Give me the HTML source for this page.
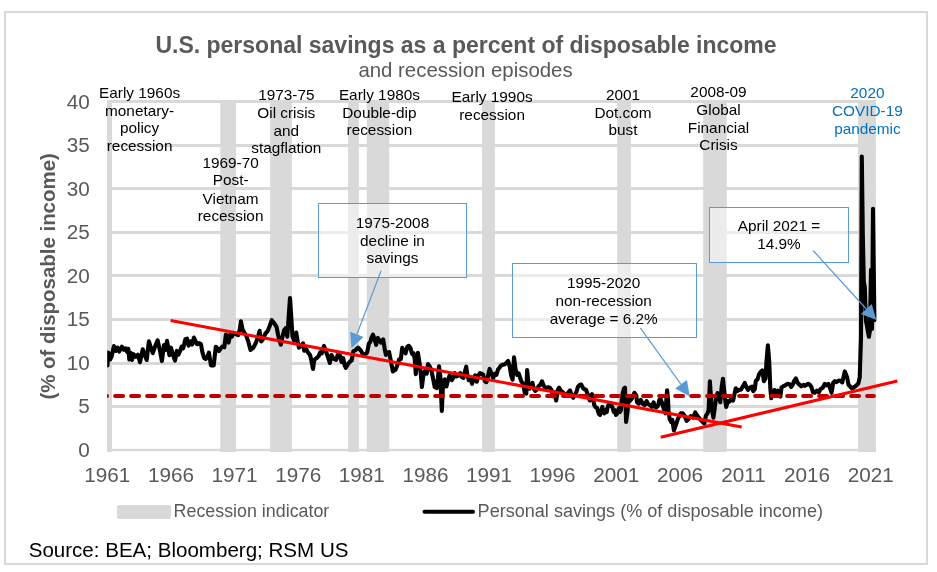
<!DOCTYPE html>
<html><head><meta charset="utf-8"><title>U.S. personal savings</title>
<style>
html,body{margin:0;padding:0;background:#fff;}
body{width:937px;height:572px;position:relative;overflow:hidden;font-family:"Liberation Sans",sans-serif;}
#frame{position:absolute;left:4px;top:11px;width:920px;height:550px;border:2px solid #d9d9d9;background:#fff;}
svg{position:absolute;left:0;top:0;}
#txt{position:absolute;left:0;top:0;width:937px;height:572px;will-change:transform;}
.t{position:absolute;white-space:nowrap;}
#title{left:0;width:932px;text-align:center;top:31.5px;font-size:23px;font-weight:bold;color:#595959;line-height:26px;}
#sub{left:0;width:931px;text-align:center;top:58.2px;font-size:20.4px;color:#595959;line-height:24px;}
.yl{position:absolute;left:30px;width:59.7px;text-align:right;font-size:20.7px;line-height:23px;height:23px;color:#595959;}
.xl{position:absolute;top:462.5px;width:60px;text-align:center;font-size:20.7px;line-height:24px;color:#595959;}
#ytitle{position:absolute;left:0;top:0;font-size:20.45px;font-weight:bold;color:#595959;white-space:nowrap;line-height:24px;
 transform-origin:0 0;transform:translate(36.2px,399.6px) rotate(-90deg);}
.an{position:absolute;text-align:center;font-size:15.35px;line-height:17px;height:17px;white-space:nowrap;}
.box{position:absolute;border:1px solid #5b9bd5;background:rgba(255,255,255,0.5);box-sizing:border-box;}
.lg{position:absolute;font-size:17.9px;color:#595959;line-height:22px;white-space:nowrap;}
#src{left:28.7px;top:538.3px;font-size:20.56px;color:#000;line-height:24px;}
</style></head><body>
<div id="frame"></div>
<svg width="937" height="572" viewBox="0 0 937 572">
<rect x="107" y="100" width="5.0" height="352" fill="#d9d9d9"/>
<rect x="220.3" y="100" width="15.7" height="352" fill="#d9d9d9"/>
<rect x="270.1" y="100" width="21.8" height="352" fill="#d9d9d9"/>
<rect x="348.1" y="100" width="10.8" height="352" fill="#d9d9d9"/>
<rect x="366.8" y="100" width="22.4" height="352" fill="#d9d9d9"/>
<rect x="482.1" y="100" width="12.8" height="352" fill="#d9d9d9"/>
<rect x="617.2" y="100" width="13.7" height="352" fill="#d9d9d9"/>
<rect x="703.2" y="100" width="23.6" height="352" fill="#d9d9d9"/>
<rect x="858.1" y="100" width="17.8" height="352" fill="#d9d9d9"/>
<rect x="107" y="100" width="769" height="3" fill="#d9d9d9"/>
<rect x="107" y="144" width="769" height="3" fill="#d9d9d9"/>
<rect x="107" y="187" width="769" height="3" fill="#d9d9d9"/>
<rect x="107" y="231" width="769" height="3" fill="#d9d9d9"/>
<rect x="107" y="274" width="769" height="3" fill="#d9d9d9"/>
<rect x="107" y="318" width="769" height="3" fill="#d9d9d9"/>
<rect x="107" y="362" width="769" height="3" fill="#d9d9d9"/>
<rect x="107" y="405" width="769" height="3" fill="#d9d9d9"/>
<rect x="107" y="448.8" width="769" height="2.4" fill="#d9d9d9"/>

<defs><clipPath id="cp2"><rect x="107.2" y="90" width="790" height="380"/></clipPath><clipPath id="cp"><rect x="107" y="90" width="769" height="370"/></clipPath></defs>
<polyline clip-path="url(#cp2)" points="107.5,365.4 108.3,352.6 110.1,359.5 111.7,356.3 113.9,346.1 116.0,350.9 117.6,347.7 119.2,351.5 121.9,346.7 124.0,349.9 125.6,348.3 127.2,352.0 128.3,348.8 129.3,359.5 130.9,353.1 132.0,360.0 133.6,354.2 135.8,356.8 137.9,354.7 140.0,362.2 142.7,349.3 144.8,355.2 146.7,360.0 148.9,341.3 151.2,348.8 152.8,353.1 155.0,346.7 157.6,340.3 159.8,349.9 161.9,361.1 164.0,345.1 165.6,349.9 167.0,340.8 169.4,355.2 171.0,347.7 173.1,355.2 175.0,360.6 176.8,350.9 178.4,354.7 180.0,350.9 181.6,346.7 183.2,348.3 185.4,339.2 187.0,338.7 188.6,345.6 190.7,341.3 192.3,344.5 193.9,337.6 196.1,342.4 197.1,344.2 199.3,343.1 200.9,344.2 202.5,352.7 204.1,358.0 205.7,359.1 207.3,357.0 208.9,352.7 211.0,365.5 213.7,365.5 215.8,346.8 217.4,348.4 219.0,351.1 221.1,347.9 222.7,346.3 224.3,347.4 225.9,334.5 227.6,337.7 228.6,342.6 230.2,334.5 231.8,336.7 233.4,332.9 235.6,334.0 238.2,335.1 239.8,329.2 240.9,321.2 242.5,329.2 244.1,332.4 246.2,335.6 248.4,342.0 250.5,350.0 253.2,347.9 255.8,343.1 258.0,336.7 259.6,330.8 261.2,341.5 263.3,338.8 265.4,333.5 267.6,331.3 269.7,326.0 271.8,320.1 273.8,322.8 275.0,324.4 276.6,327.1 278.0,334.5 279.5,340.9 280.9,344.7 282.5,336.7 284.1,330.3 285.7,328.1 287.3,336.7 290.0,298.0 292.5,336.3 294.1,340.6 296.2,332.6 297.8,342.2 298.9,347.6 301.0,345.9 303.1,343.3 304.2,350.8 306.3,349.2 307.9,352.4 310.1,355.0 311.7,362.0 313.0,368.9 314.3,359.8 316.5,358.2 318.6,356.1 320.2,352.4 321.8,353.4 324.0,345.9 326.1,351.8 328.2,357.7 329.8,363.0 331.4,355.0 333.6,358.8 336.2,359.8 337.8,354.5 340.0,355.6 341.6,362.0 343.2,358.2 344.6,365.2 345.8,367.8 348.0,364.1 349.6,362.0 351.7,360.4 353.3,351.3 355.4,350.2 358.1,347.6 359.7,349.2 361.3,351.3 362.9,354.5 365.0,354.5 367.2,352.4 368.8,343.8 370.4,341.7 371.4,337.9 373.0,334.7 374.6,339.5 376.2,344.9 377.8,337.9 379.5,340.6 381.1,342.7 383.2,339.4 384.8,349.5 385.9,354.9 387.5,352.7 389.1,352.2 390.7,360.2 392.8,371.4 395.5,369.8 397.6,364.5 399.2,359.2 400.8,359.2 402.2,347.9 404.0,351.1 405.6,353.3 407.2,346.9 408.8,345.8 410.4,347.9 412.0,353.8 413.6,353.3 414.7,359.2 415.8,374.1 416.8,365.6 417.9,352.7 420.3,367.8 421.9,387.0 423.5,374.2 425.1,371.0 426.7,373.7 428.0,364.1 429.9,366.7 431.5,371.0 433.1,378.5 434.7,387.0 436.8,388.1 437.9,378.5 439.0,366.2 440.3,376.3 441.8,411.0 443.2,380.6 444.8,379.5 446.4,386.5 448.0,380.1 449.6,375.3 451.8,380.1 453.4,377.4 455.0,373.1 456.6,376.3 458.2,375.8 460.3,373.1 461.9,376.9 463.5,377.9 465.1,371.0 466.2,366.7 467.4,375.3 468.8,380.1 470.4,377.9 472.0,383.8 473.6,378.5 475.2,375.3 476.8,381.7 478.4,375.8 480.0,373.1 481.6,373.7 483.2,374.7 484.8,381.1 486.4,382.2 488.0,376.3 489.6,368.9 491.2,373.1 493.2,378.1 494.8,373.8 496.4,374.9 498.0,369.5 499.6,367.4 501.2,365.3 502.8,364.7 504.9,364.2 506.5,362.6 508.1,361.0 509.7,366.3 511.3,375.9 512.6,379.7 514.0,357.3 515.6,369.5 517.2,374.9 518.6,373.3 519.9,377.0 521.5,381.8 523.1,383.4 524.7,392.5 526.3,393.6 527.1,370.1 528.4,382.4 529.5,388.8 531.1,385.6 532.5,382.9 533.8,388.8 535.4,390.9 537.0,389.3 538.6,386.1 540.2,385.0 542.0,381.3 543.4,385.0 545.0,387.7 546.6,387.7 548.2,387.2 549.8,387.7 551.4,389.8 553.0,396.2 554.6,392.5 556.2,400.5 557.8,389.8 559.2,387.7 561.0,390.9 562.6,392.0 564.7,394.1 566.8,394.6 568.4,392.5 570.0,390.4 571.6,395.2 573.2,397.8 574.8,395.2 576.4,392.0 578.0,386.6 579.6,385.0 581.2,384.5 582.8,387.7 584.5,389.3 586.1,389.8 588.2,396.0 589.8,400.5 591.1,395.4 592.0,394.1 593.3,398.6 594.0,404.3 595.2,406.9 597.2,408.2 598.8,413.9 600.0,414.9 601.3,410.7 602.3,406.9 603.2,412.0 604.2,413.3 605.5,410.1 606.8,412.0 607.4,408.2 608.4,405.0 609.6,405.6 610.9,404.3 612.5,407.5 613.8,412.0 614.8,410.1 616.0,414.9 617.0,413.9 618.0,410.7 618.9,408.2 619.9,412.0 620.9,410.1 621.8,399.2 622.8,392.8 624.1,388.3 625.0,387.7 626.1,422.0 627.7,410.2 628.0,399.2 629.9,401.1 631.8,398.6 634.4,392.8 636.3,395.4 637.0,402.4 638.9,403.7 640.8,399.8 642.7,403.7 644.6,405.0 646.6,401.1 647.8,403.7 649.8,405.0 651.7,406.9 653.6,402.4 654.9,406.9 656.2,407.5 658.1,405.6 659.4,399.8 660.7,399.2 661.9,402.4 663.2,406.9 664.5,411.4 665.5,413.3 666.4,399.2 667.1,390.2 668.0,399.2 668.5,410.2 669.6,418.8 671.2,422.0 672.3,419.8 673.9,430.5 676.0,424.6 677.6,419.8 679.2,416.1 680.8,413.4 682.9,413.4 684.5,415.6 686.7,420.9 688.8,418.8 690.9,416.1 693.1,417.7 695.2,412.4 696.8,415.0 699.0,417.7 701.1,420.4 702.7,422.0 704.3,423.6 705.9,415.6 707.5,413.4 708.6,410.2 709.9,381.4 711.2,401.7 712.3,411.3 713.4,417.7 714.6,409.2 716.0,397.9 717.6,393.1 719.2,398.5 720.3,402.2 721.7,386.7 723.0,378.7 724.6,395.3 726.2,407.0 727.8,401.1 729.4,401.7 731.5,397.9 733.1,400.6 734.7,393.1 735.8,388.3 737.4,391.0 739.0,389.9 741.1,389.4 743.2,385.7 744.8,383.0 746.4,387.3 748.0,389.9 750.2,387.3 751.8,386.7 753.2,391.2 754.8,389.1 755.9,380.6 757.5,379.5 759.1,374.2 760.7,372.0 762.3,370.4 763.9,381.1 765.5,378.4 766.5,361.3 767.9,345.3 769.2,361.3 770.3,388.0 771.3,398.2 772.9,393.4 774.5,390.2 776.1,392.3 777.7,390.7 779.3,393.4 780.4,396.6 781.5,387.5 783.1,386.4 785.2,385.4 787.4,383.8 789.5,384.3 791.1,387.0 792.7,384.8 794.3,380.6 795.9,378.4 797.5,382.7 799.1,384.3 801.2,386.4 803.4,384.8 805.0,385.9 806.6,384.8 808.2,383.8 809.8,384.8 811.4,387.0 813.0,392.3 814.6,392.8 816.7,390.7 818.8,392.3 820.4,389.1 822.6,388.0 824.7,383.8 826.3,385.4 828.4,383.8 830.0,388.0 831.6,392.8 833.2,382.7 834.8,381.1 836.4,382.2 838.6,380.6 840.7,381.1 842.3,382.4 844.8,371.4 847.2,377.5 848.5,384.8 852.1,388.5 855.8,386.0 858.3,383.6 859.7,377.5 861.0,337.6 861.8,156.5 862.8,234.0 863.8,281.9 864.8,287.1 865.9,321.1 866.9,325.4 867.9,331.5 868.9,336.8 869.9,330.7 871.0,269.7 872.0,328.9 873.0,208.7 874.4,320.2" fill="none" stroke="#000" stroke-width="4.1" stroke-linejoin="round" stroke-linecap="round"/>
<line x1="99.2" x2="873.8" y1="396" y2="396" stroke="#c00000" stroke-width="4.2" stroke-dasharray="7.8 8.2" stroke-linecap="round" clip-path="url(#cp)"/>
<line x1="170.6" y1="320.6" x2="741.7" y2="426.9" stroke="#ff0000" stroke-width="3.1"/>
<line x1="660.7" y1="437.2" x2="897.3" y2="381" stroke="#ff0000" stroke-width="3.1"/>
<rect x="116.9" y="504.9" width="54.1" height="14.1" rx="2.2" fill="#d9d9d9"/>
<line x1="424.5" x2="473" y1="511.7" y2="511.7" stroke="#000" stroke-width="4" stroke-linecap="round"/>
</svg>
<div class="box" style="left:318px;top:203px;width:149px;height:74.5px"></div>
<div class="box" style="left:512px;top:263px;width:185px;height:74.5px"></div>
<div class="box" style="left:709px;top:207px;width:140px;height:55.5px"></div>
<svg width="937" height="572" viewBox="0 0 937 572"><line x1="381.1" y1="270.8" x2="356.9" y2="334.3" stroke="#5b9bd5" stroke-width="1.2"/><polygon points="351.5,348.3 350.1,331.7 363.6,336.9" fill="#5b9bd5"/>
<line x1="640.3" y1="327.9" x2="681.0" y2="384.3" stroke="#5b9bd5" stroke-width="1.2"/><polygon points="689.8,396.5 675.1,388.6 686.9,380.1" fill="#5b9bd5"/>
<line x1="813.1" y1="250.5" x2="866.3" y2="309.0" stroke="#5b9bd5" stroke-width="1.2"/><polygon points="876.4,320.1 860.9,313.9 871.7,304.1" fill="#5b9bd5"/>
</svg>
<div id="txt">
<div class="t" id="title">U.S. personal savings as a percent of disposable income</div>
<div class="t" id="sub">and recession episodes</div>
<div class="yl" style="top:438px">0</div>
<div class="yl" style="top:394px">5</div>
<div class="yl" style="top:351px">10</div>
<div class="yl" style="top:307px">15</div>
<div class="yl" style="top:264px">20</div>
<div class="yl" style="top:220px">25</div>
<div class="yl" style="top:177px">30</div>
<div class="yl" style="top:133px">35</div>
<div class="yl" style="top:90px">40</div>
<div class="xl" style="left:77.3px">1961</div>
<div class="xl" style="left:140.9px">1966</div>
<div class="xl" style="left:204.5px">1971</div>
<div class="xl" style="left:268.2px">1976</div>
<div class="xl" style="left:331.8px">1981</div>
<div class="xl" style="left:395.4px">1986</div>
<div class="xl" style="left:459.0px">1991</div>
<div class="xl" style="left:522.6px">1996</div>
<div class="xl" style="left:586.3px">2001</div>
<div class="xl" style="left:649.9px">2006</div>
<div class="xl" style="left:713.5px">2011</div>
<div class="xl" style="left:777.1px">2016</div>
<div class="xl" style="left:840.7px">2021</div>

<div id="ytitle">(% of disposable income)</div>
<div class="an" style="left:44.6px;top:84px;width:190px;color:#000">Early 1960s</div>
<div class="an" style="left:44.6px;top:102px;width:190px;color:#000">monetary-</div>
<div class="an" style="left:44.6px;top:119px;width:190px;color:#000">policy</div>
<div class="an" style="left:44.6px;top:137px;width:190px;color:#000">recession</div>
<div class="an" style="left:135.6px;top:154px;width:190px;color:#000">1969-70</div>
<div class="an" style="left:135.6px;top:171px;width:190px;color:#000">Post-</div>
<div class="an" style="left:135.6px;top:190px;width:190px;color:#000">Vietnam</div>
<div class="an" style="left:135.6px;top:207px;width:190px;color:#000">recession</div>
<div class="an" style="left:191.3px;top:86px;width:190px;color:#000">1973-75</div>
<div class="an" style="left:191.3px;top:104px;width:190px;color:#000">Oil crisis</div>
<div class="an" style="left:191.3px;top:122px;width:190px;color:#000">and</div>
<div class="an" style="left:191.3px;top:139px;width:190px;color:#000">stagflation</div>
<div class="an" style="left:284.4px;top:86px;width:190px;color:#000">Early 1980s</div>
<div class="an" style="left:284.4px;top:104px;width:190px;color:#000">Double-dip</div>
<div class="an" style="left:284.4px;top:121px;width:190px;color:#000">recession</div>
<div class="an" style="left:397.1px;top:88px;width:190px;color:#000">Early 1990s</div>
<div class="an" style="left:397.1px;top:106px;width:190px;color:#000">recession</div>
<div class="an" style="left:528.0px;top:86px;width:190px;color:#000">2001</div>
<div class="an" style="left:528.0px;top:104px;width:190px;color:#000">Dot.com</div>
<div class="an" style="left:528.0px;top:121px;width:190px;color:#000">bust</div>
<div class="an" style="left:623.5px;top:83px;width:190px;color:#000">2008-09</div>
<div class="an" style="left:623.5px;top:101px;width:190px;color:#000">Global</div>
<div class="an" style="left:623.5px;top:119px;width:190px;color:#000">Financial</div>
<div class="an" style="left:623.5px;top:136px;width:190px;color:#000">Crisis</div>
<div class="an" style="left:772.4px;top:84px;width:190px;color:#0070c0">2020</div>
<div class="an" style="left:772.4px;top:102px;width:190px;color:#0070c0">COVID-19</div>
<div class="an" style="left:772.4px;top:120px;width:190px;color:#0070c0">pandemic</div>
<div class="an" style="left:297.5px;top:214px;width:190px;color:#000">1975-2008</div>
<div class="an" style="left:297.5px;top:232px;width:190px;color:#000">decline in</div>
<div class="an" style="left:297.5px;top:249px;width:190px;color:#000">savings</div>
<div class="an" style="left:508.7px;top:274px;width:190px;color:#000">1995-2020</div>
<div class="an" style="left:508.7px;top:292px;width:190px;color:#000">non-recession</div>
<div class="an" style="left:508.7px;top:310px;width:190px;color:#000">average = 6.2%</div>
<div class="an" style="left:684.0px;top:217px;width:190px;color:#000">April 2021 =</div>
<div class="an" style="left:684.0px;top:235px;width:190px;color:#000">14.9%</div>

<div class="lg" style="left:173.6px;top:500.2px;font-size:17.85px">Recession indicator</div>
<div class="lg" style="left:477.6px;top:500.2px;font-size:18.07px">Personal savings (% of disposable income)</div>
<div class="t" id="src">Source: BEA; Bloomberg; RSM US</div>
</div>
</body></html>
